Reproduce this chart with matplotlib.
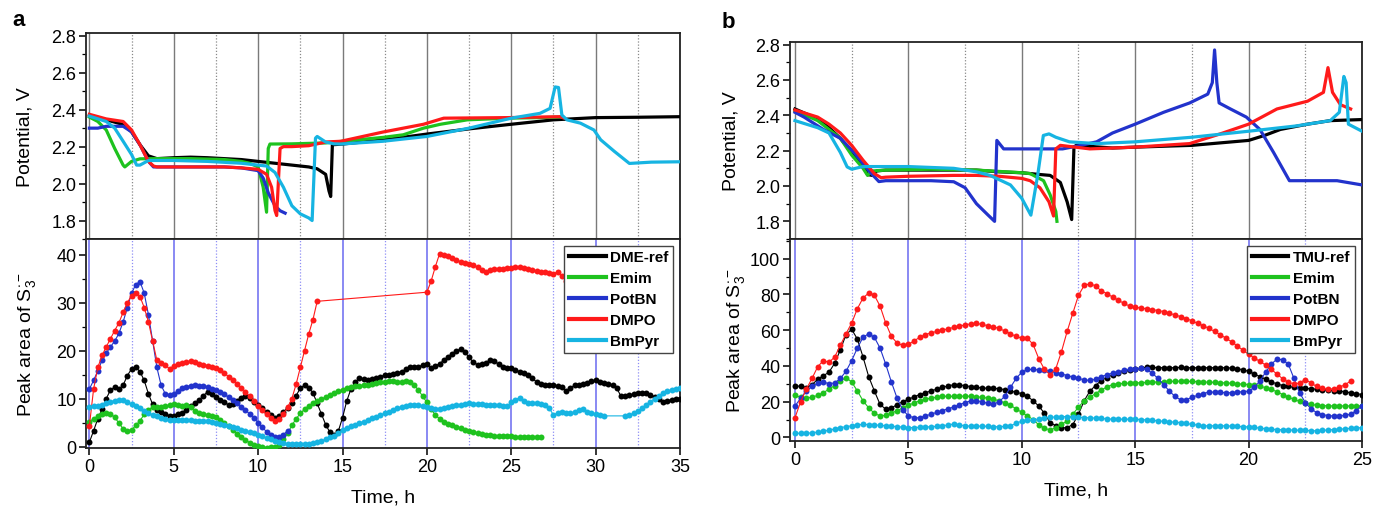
import numpy as np
import matplotlib
matplotlib.use("Agg")
import matplotlib.pyplot as plt
from matplotlib.lines import Line2D
from matplotlib.ticker import MultipleLocator

plt.rcParams['font.family'] = ['Liberation Sans', 'DejaVu Sans']
plt.rcParams['mathtext.fontset'] = 'custom'
plt.rcParams['mathtext.rm'] = 'Liberation Sans'
plt.rcParams['mathtext.it'] = 'Liberation Sans:italic'
plt.rcParams['mathtext.bf'] = 'Liberation Sans:bold'

# ---------------- colours / labels ----------------
colors = ['#000000', '#1ec21e', '#2233cc', '#ff1a1a', '#16b4e2']
labels_a = ['DME-ref', 'Emim', 'PotBN', 'DMPO', 'BmPyr']
labels_b = ['TMU-ref', 'Emim', 'PotBN', 'DMPO', 'BmPyr']
xticks_a = [0, 5, 10, 15, 20, 25, 30, 35]
xticks_b = [0, 5, 10, 15, 20, 25]
step = 0.25  # sampling interval of the Raman peak-area series, h

# ---------------- panel a : potential ----------------
pa_black_t = [0, 1, 2, 2.5, 3, 3.5, 4, 5, 6, 7, 8, 9, 10, 11, 12, 13, 13.5, 14, 14.2, 14.3, 14.4, 15, 17.5, 20, 22.5, 25, 27.5, 30, 32.5, 35]
pa_black_v = [2.37, 2.345, 2.32, 2.28, 2.21, 2.15, 2.135, 2.14, 2.143, 2.14, 2.135, 2.13, 2.12, 2.11, 2.10, 2.09, 2.08, 2.05, 1.96, 1.93, 2.21, 2.214, 2.237, 2.268, 2.296, 2.321, 2.345, 2.357, 2.359, 2.362]
pa_green_t = [0, 0.5, 1, 1.5, 2, 2.1, 2.5, 3, 4, 6, 8, 9, 9.5, 10, 10.3, 10.5, 10.6, 10.7, 12, 14, 15, 17.4, 18.6, 19.8, 20.8, 22.4, 24.8, 26.7, 28]
pa_green_v = [2.36, 2.336, 2.29, 2.19, 2.10, 2.09, 2.12, 2.134, 2.135, 2.135, 2.13, 2.12, 2.11, 2.09, 1.98, 1.845, 2.19, 2.214, 2.215, 2.22, 2.229, 2.25, 2.264, 2.30, 2.321, 2.345, 2.354, 2.357, 2.36]
pa_blue_t = [0, 0.5, 1, 2, 2.5, 3, 3.5, 3.8, 4, 6, 8, 9, 10, 10.3, 10.6, 11, 11.3, 11.6]
pa_blue_v = [2.30, 2.30, 2.31, 2.31, 2.28, 2.21, 2.12, 2.09, 2.09, 2.09, 2.09, 2.085, 2.07, 2.03, 1.95, 1.88, 1.853, 1.84]
pa_red_t = [0, 1, 2, 2.5, 3, 3.5, 3.8, 4, 6, 8, 9, 10, 10.5, 10.8, 11.0, 11.1, 11.3, 11.5, 12, 13, 14, 14.9, 17.4, 19.8, 21, 24.75, 27.9, 28.1]
pa_red_v = [2.375, 2.35, 2.336, 2.29, 2.21, 2.12, 2.095, 2.09, 2.09, 2.09, 2.085, 2.077, 2.05, 1.98, 1.854, 1.827, 2.19, 2.20, 2.20, 2.205, 2.225, 2.229, 2.279, 2.321, 2.354, 2.357, 2.362, 2.355]
pa_cyan_t = [0, 1, 1.5, 2, 2.5, 2.8, 3.0, 3.2, 3.5, 5, 7, 8, 9, 10, 10.5, 11, 11.5, 12, 12.5, 13, 13.2, 13.4, 13.5, 14, 14.5, 14.9, 17.4, 20, 22.5, 25, 26.7, 27.3, 27.6, 27.8, 28, 28.3, 29.1, 29.9, 30.3, 31.1, 32, 33.3, 35]
pa_cyan_v = [2.365, 2.336, 2.30, 2.229, 2.157, 2.10, 2.10, 2.11, 2.125, 2.125, 2.12, 2.115, 2.11, 2.10, 2.095, 2.06, 1.98, 1.88, 1.836, 1.814, 1.80, 2.246, 2.255, 2.225, 2.215, 2.214, 2.229, 2.255, 2.30, 2.354, 2.38, 2.407, 2.523, 2.52, 2.371, 2.345, 2.327, 2.29, 2.237, 2.175, 2.109, 2.116, 2.118]

# ---------------- panel a : peak area (start time, values every 0.25 h) ----------------
sa_black = [0.9, 3.3, 5.8, 7.8, 10.0, 11.8, 12.4, 12.0, 12.8, 14.8, 16.2, 16.6, 15.6, 13.8, 11.0, 8.8,
            7.6, 7.2, 6.8, 6.4, 6.3, 6.7, 7.1, 7.6, 8.4, 9.1, 9.7, 10.6, 11.4, 11.0, 10.3, 9.8,
            9.4, 8.6, 8.8, 9.6, 10.2, 10.5, 10.1, 9.3, 8.6, 8.0, 7.3, 6.6, 6.0, 6.4, 7.2, 8.1,
            9.0, 10.6, 12.2, 12.8, 12.3, 11.2, 9.0, 6.8, 4.6, 3.0, 2.4, 3.2, 6.0, 9.5, 12.0, 13.5,
            14.2, 14.0, 13.9, 14.1, 14.3, 14.6, 14.9, 15.0, 15.2, 15.4, 15.6, 16.1, 16.6, 16.5, 16.6, 17.0,
            17.3, 16.3, 16.8, 17.3, 18.0, 18.7, 19.4, 20.0, 20.3, 19.7, 18.6, 17.6, 17.1, 17.2, 17.4, 18.1,
            17.8, 17.2, 16.6, 16.3, 16.3, 16.0, 15.6, 15.3, 14.9, 14.2, 13.5, 13.1, 12.8, 12.8, 12.8, 12.6,
            12.5, 11.6, 12.2, 12.8, 12.8, 13.0, 13.2, 13.6, 13.9, 13.5, 13.2, 13.0, 12.8, 12.2, 10.5, 10.6,
            10.7, 10.9, 11.1, 11.1, 11.1, 10.8, 10.4, 9.9, 9.4, 9.6, 9.7, 9.9, 10.0]
sa_green = [5.2, 5.8, 6.3, 6.8, 7.0, 6.8, 6.1, 4.9, 3.7, 3.3, 3.5, 4.4, 5.4, 6.7, 7.7, 8.2,
            8.3, 8.3, 8.4, 8.6, 8.8, 8.7, 8.5, 8.6, 8.3, 7.5, 7.0, 6.7, 6.5, 6.4, 6.2, 5.6,
            5.0, 4.3, 3.4, 2.6, 2.0, 1.4, 0.8, 0.4, 0.1, -0.1, -0.2, -0.1, 0.0, 0.4, 1.5, 2.8,
            4.4, 5.8, 6.9, 7.8, 8.5, 9.0, 9.5, 9.9, 10.3, 10.7, 11.1, 11.5, 11.9, 12.2, 12.4, 12.6,
            12.7, 12.8, 12.9, 13.1, 13.2, 13.4, 13.5, 13.6, 13.6, 13.5, 13.5, 13.6, 13.5, 12.8, 11.8, 10.5,
            9.2, 7.8, 6.6, 5.8, 5.2, 4.8, 4.4, 4.1, 3.8, 3.5, 3.2, 3.0, 2.8, 2.6, 2.5, 2.4,
            2.3, 2.2, 2.2, 2.1, 2.1, 2.0, 2.0, 2.0, 1.9, 1.9, 1.9, 1.9]
sa_blue = [12.0, 13.8, 15.8, 18.0, 19.5, 20.8, 22.0, 23.6, 26.0, 29.0, 32.0, 33.8, 34.4, 32.0, 27.5, 22.0,
           16.5, 12.8, 11.0, 10.7, 11.0, 11.6, 12.2, 12.5, 12.7, 12.8, 12.7, 12.6, 12.4, 12.1, 11.8, 11.4,
           10.9, 10.3, 9.7, 9.0, 8.3, 7.6, 6.8, 5.9, 5.0, 4.0, 3.1, 2.4, 2.0, 2.0, 2.5, 3.3]
sa_red_1 = [4.3, 12.0, 16.5, 19.0, 20.8, 22.5, 24.2, 25.8, 28.0, 30.0, 31.5, 32.0, 31.3, 29.0, 26.0, 22.0,
            18.0, 17.5, 17.0, 16.2, 16.8, 17.3, 17.5, 17.6, 17.9, 17.6, 17.3, 17.1, 16.9, 16.7, 16.4, 15.9,
            15.3, 14.6, 13.9, 13.1, 12.3, 11.4, 10.5, 9.5, 8.5, 7.6, 6.7, 5.9, 5.3, 5.8, 6.8, 8.2,
            10.0, 13.0, 16.5, 20.0, 23.5, 26.5, 30.3]
sa_red_2 = [32.2, 34.5, 37.5, 40.2, 40.0, 39.7, 39.4, 38.9, 38.5, 38.2, 38.0, 37.8, 37.4, 36.9, 36.5, 36.8,
            37.0, 37.1, 37.0, 37.2, 37.3, 37.5, 37.4, 37.2, 37.0, 36.8, 36.6, 36.5, 36.5, 36.2, 36.0, 36.5,
            35.5, 34.6]
sa_cyan_1 = [8.3, 8.4, 8.5, 8.7, 9.0, 9.3, 9.6, 9.8, 9.7, 9.3, 8.8, 8.4, 8.0, 7.5, 7.0, 6.6,
             6.3, 6.0, 5.8, 5.6, 5.5, 5.5, 5.5, 5.5, 5.5, 5.4, 5.4, 5.3, 5.3, 5.1, 5.0, 4.8,
             4.5, 4.3, 4.0, 3.8, 3.5, 3.3, 3.0, 2.8, 2.5, 2.1, 1.8, 1.5, 1.2, 0.9, 0.7, 0.6,
             0.5, 0.5, 0.5, 0.5, 0.6, 0.7, 0.9, 1.2, 1.5, 1.9, 2.3, 2.9, 3.5, 3.9, 4.3, 4.6,
             4.9, 5.2, 5.6, 5.9, 6.2, 6.6, 6.9, 7.3, 7.6, 8.0, 8.3, 8.5, 8.7, 8.7, 8.7, 8.5,
             8.3, 8.0, 7.8, 7.9, 8.0, 8.2, 8.4, 8.6, 8.7, 8.9, 9.0, 8.9, 8.8, 8.8, 8.7, 8.7,
             8.7, 8.6, 8.4, 8.4, 9.2, 9.8, 10.2, 9.6, 9.0, 9.0, 9.0, 8.8, 8.7, 8.0, 6.6, 7.0,
             7.3, 7.1, 6.9, 7.2, 7.6, 7.8, 7.3, 6.9, 6.7, 6.5, 6.4]
sa_cyan_2 = [6.4, 6.6, 6.9, 7.4, 8.0, 8.7, 9.4, 10.0, 10.6, 11.1, 11.5, 11.8, 12.1, 12.3]
sa_segments = {  # series index -> list of (start time, values)
    0: [(0.0, sa_black)],
    1: [(0.0, sa_green)],
    2: [(0.0, sa_blue)],
    3: [(0.0, sa_red_1), (20.0, sa_red_2)],
    4: [(0.0, sa_cyan_1), (31.75, sa_cyan_2)],
}

# ---------------- panel b : potential ----------------
pb_black_t = [0, 1, 1.5, 2, 2.5, 3, 3.2, 3.4, 3.6, 4, 5, 7, 8, 9, 10, 10.8, 11.25, 11.7, 12, 12.2, 12.3, 12.4, 14, 15, 17.5, 20, 20.7, 21.4, 22.6, 23.6, 25]
pb_black_v = [2.436, 2.38, 2.33, 2.27, 2.19, 2.12, 2.065, 2.06, 2.085, 2.09, 2.09, 2.09, 2.09, 2.08, 2.075, 2.065, 2.06, 2.02, 1.91, 1.81, 2.22, 2.23, 2.215, 2.22, 2.23, 2.258, 2.286, 2.32, 2.35, 2.37, 2.376]
pb_green_t = [0, 1, 2, 2.5, 3, 3.2, 3.4, 4, 6, 8, 10, 10.37, 10.96, 11.25, 11.5, 11.55]
pb_green_v = [2.426, 2.37, 2.27, 2.175, 2.10, 2.06, 2.085, 2.09, 2.095, 2.09, 2.075, 2.07, 2.03, 1.95, 1.856, 1.80]
pb_blue_t = [0, 0.4, 1.25, 2, 2.6, 3.3, 3.7, 4, 6, 7, 7.5, 8, 8.5, 8.8, 8.9, 9.2, 10, 11.8, 12.6, 13.3, 14, 15, 16.25, 17.4, 18.2, 18.4, 18.5, 18.6, 18.7, 19.2, 19.9, 20.5, 21.1, 21.8, 22.6, 23.9, 25]
pb_blue_v = [2.417, 2.39, 2.32, 2.27, 2.19, 2.08, 2.025, 2.03, 2.03, 2.024, 1.99, 1.90, 1.837, 1.80, 2.258, 2.21, 2.21, 2.21, 2.23, 2.25, 2.30, 2.35, 2.417, 2.47, 2.52, 2.585, 2.77, 2.585, 2.47, 2.436, 2.39, 2.32, 2.19, 2.03, 2.03, 2.03, 2.006]
pb_red_t = [0, 1, 1.5, 2, 2.5, 3, 3.5, 3.8, 4, 5, 7, 8, 9, 10, 10.37, 10.8, 11.2, 11.4, 11.5, 11.7, 13, 15, 17.4, 18.75, 20, 21.25, 22.6, 23.3, 23.5, 23.7, 24.05, 24.5]
pb_red_v = [2.43, 2.39, 2.35, 2.30, 2.23, 2.146, 2.07, 2.047, 2.05, 2.055, 2.06, 2.06, 2.055, 2.043, 2.03, 1.99, 1.91, 1.83, 2.21, 2.23, 2.21, 2.22, 2.24, 2.295, 2.35, 2.436, 2.48, 2.53, 2.67, 2.53, 2.46, 2.436]
pb_cyan_t = [0, 1, 1.5, 2, 2.3, 2.5, 3, 5, 7, 8, 8.6, 9.5, 10, 10.4, 10.7, 10.95, 11.2, 11.5, 12.1, 13.3, 15, 17.5, 20, 22.1, 23.6, 24, 24.2, 24.3, 24.4, 25]
pb_cyan_v = [2.37, 2.33, 2.30, 2.19, 2.108, 2.095, 2.11, 2.11, 2.10, 2.08, 2.06, 2.006, 1.93, 1.835, 2.06, 2.286, 2.295, 2.276, 2.25, 2.24, 2.25, 2.276, 2.31, 2.34, 2.37, 2.417, 2.62, 2.585, 2.35, 2.31]

# ---------------- panel b : peak area (values every 0.25 h from 0) ----------------
sb_black = [29.0, 28.5, 27.8, 29.5, 32.5, 34.5, 36.5, 41.5, 49.0, 57.5, 60.5, 55.0, 45.0, 34.0, 26.0, 18.5,
            15.8, 16.5, 18.3, 20.0, 21.3, 22.7, 24.0, 25.0, 26.0, 27.0, 28.0, 28.8, 29.5, 29.3, 29.0, 28.4,
            28.0, 27.7, 27.5, 27.4, 27.3, 26.7, 26.0, 25.2, 24.5, 23.0, 20.5, 17.5, 13.5, 8.3, 6.5, 5.3,
            5.5, 7.2, 13.0, 20.5, 25.9, 29.0, 31.8, 33.5, 35.0, 36.2, 37.0, 37.5, 38.0, 38.8, 39.3, 39.2,
            39.0, 39.0, 39.0, 39.0, 39.2, 39.0, 39.0, 39.0, 39.0, 39.0, 39.0, 39.0, 39.0, 38.8, 38.5, 37.8,
            37.0, 35.5, 34.0, 32.5, 31.0, 30.0, 29.0, 28.5, 28.0, 27.7, 27.5, 27.2, 27.0, 26.7, 26.5, 26.2,
            26.0, 25.5, 25.0, 24.5, 24.0]
sb_green = [23.5, 22.5, 22.0, 22.5, 23.5, 25.0, 27.0, 29.0, 31.5, 33.5, 31.0, 26.0, 20.5, 16.5, 13.5, 12.0,
            12.3, 13.5, 15.0, 16.5, 18.0, 19.3, 20.5, 21.3, 22.0, 22.5, 23.0, 23.0, 23.0, 23.0, 23.1, 23.0,
            22.8, 22.4, 22.0, 21.3, 20.5, 19.3, 18.0, 16.0, 14.0, 12.0, 10.0, 7.0, 5.2, 4.1, 5.5, 7.3,
            9.2, 13.0, 17.0, 20.5, 22.5, 24.5, 26.5, 28.2, 29.6, 30.0, 30.2, 30.4, 30.5, 30.6, 30.8, 30.9,
            31.0, 31.1, 31.3, 31.4, 31.5, 31.4, 31.3, 31.2, 31.0, 30.9, 30.8, 30.6, 30.5, 30.3, 30.0, 29.8,
            29.6, 29.2, 28.7, 27.8, 26.9, 25.5, 24.0, 22.6, 21.3, 20.1, 19.0, 18.5, 18.0, 17.8, 17.7, 17.6,
            17.6, 17.6, 17.6, 17.6, 17.6]
sb_blue = [17.5, 22.0, 26.0, 28.5, 30.5, 31.0, 30.0, 30.5, 33.0, 37.0, 43.0, 50.0, 56.0, 58.0, 56.0, 50.0,
           41.0, 31.0, 22.0, 15.5, 12.0, 11.0, 11.0, 12.0, 13.0, 14.0, 15.0, 16.0, 17.0, 18.3, 19.5, 20.4,
           20.5, 20.0, 19.0, 18.5, 20.0, 23.0, 28.0, 33.0, 36.5, 38.0, 38.0, 37.8, 37.5, 37.0, 36.2, 35.5,
           34.6, 33.8, 33.0, 32.2, 31.9, 32.5, 34.0, 35.0, 36.0, 36.8, 37.5, 38.0, 38.5, 38.6, 38.0, 36.0,
           33.0, 29.6, 26.0, 23.0, 21.0, 21.0, 22.5, 23.5, 24.5, 25.4, 25.3, 25.2, 25.0, 25.0, 25.3, 25.6,
           25.9, 28.0, 31.5, 36.5, 41.0, 43.8, 43.5, 41.0, 33.0, 25.0, 19.5, 16.0, 13.9, 12.8, 12.2, 12.0,
           12.0, 12.3, 13.0, 15.0, 17.6]
sb_red = [11.0, 20.0, 27.0, 33.0, 39.5, 43.0, 42.0, 45.0, 51.5, 58.0, 64.0, 72.0, 78.0, 80.8, 79.5, 73.5,
          64.0, 56.5, 52.8, 51.5, 52.0, 54.0, 56.0, 57.5, 58.5, 59.3, 60.0, 60.8, 61.5, 62.2, 63.0, 63.5,
          63.8, 63.2, 62.5, 61.8, 61.0, 59.5, 58.0, 56.5, 55.5, 55.5, 52.0, 44.0, 38.0, 35.0, 38.5, 48.0,
          59.3, 69.5, 79.5, 85.0, 86.0, 84.8, 82.0, 80.5, 78.5, 76.8, 75.0, 73.5, 72.8, 72.4, 72.0, 71.5,
          71.0, 70.4, 69.5, 68.5, 67.6, 66.5, 65.2, 63.8, 62.5, 61.0, 59.3, 57.5, 55.5, 53.5, 51.2, 48.8,
          46.5, 44.5, 42.5, 40.5, 38.0, 35.5, 32.8, 31.0, 29.8, 30.5, 32.4, 30.5, 28.5, 27.5, 27.0, 27.2,
          28.0, 29.5, 31.5]
sb_cyan = [2.5, 2.2, 2.3, 2.6, 3.0, 3.5, 4.0, 4.8, 5.5, 6.0, 6.5, 7.0, 7.3, 7.2, 7.0, 6.8,
           6.5, 6.3, 6.0, 5.8, 5.5, 5.5, 5.7, 5.8, 6.0, 6.2, 6.5, 7.0, 7.5, 7.0, 6.5, 6.3,
           6.3, 6.3, 6.2, 6.0, 6.0, 6.2, 6.5, 7.8, 9.2, 9.5, 9.8, 10.4, 11.0, 11.2, 11.5, 11.6,
           11.7, 11.5, 11.3, 11.1, 11.0, 10.8, 10.6, 10.4, 10.2, 10.2, 10.2, 10.2, 10.2, 10.0, 9.8, 9.5,
           9.3, 9.0, 8.8, 8.5, 8.3, 7.8, 7.3, 6.9, 6.5, 6.5, 6.5, 6.5, 6.5, 6.3, 6.2, 6.0,
           5.9, 5.6, 5.2, 4.9, 4.6, 4.4, 4.3, 4.2, 4.1, 4.0, 3.9, 3.8, 3.7, 3.9, 4.2, 4.4,
           4.6, 4.8, 5.1, 5.3, 5.5]
sb_segments = {
    0: [(0.0, sb_black)],
    1: [(0.0, sb_green)],
    2: [(0.0, sb_blue)],
    3: [(0.0, sb_red)],
    4: [(0.0, sb_cyan)],
}

pot_a = [(pa_black_t, pa_black_v), (pa_green_t, pa_green_v), (pa_blue_t, pa_blue_v),
         (pa_red_t, pa_red_v), (pa_cyan_t, pa_cyan_v)]
pot_b = [(pb_black_t, pb_black_v), (pb_green_t, pb_green_v), (pb_blue_t, pb_blue_v),
         (pb_red_t, pb_red_v), (pb_cyan_t, pb_cyan_v)]

W, H = 1375, 510
fig = plt.figure(figsize=(W / 100, H / 100), dpi=100)


def box(l, r, t, b):
    return [l / W, 1 - b / H, (r - l) / W, (b - t) / H]


TICK_FS = 13
LAB_FS = 14


def style(ax):
    for s in ax.spines.values():
        s.set_linewidth(1.3)
        s.set_color('#222222')
    ax.tick_params(direction='out', length=5, width=1.1, labelsize=TICK_FS, pad=2)
    ax.tick_params(which='minor', direction='out', length=3, width=0.9)


def make_panel(lrtb_top, lrtb_bot, xmax, xticks, pots, segs, labels, ylim_b, ymaj_b, ymin_b,
               letter, letter_xy, ylab_x):
    axt = fig.add_axes(box(*lrtb_top))
    axb = fig.add_axes(box(*lrtb_bot))
    x0 = -0.2 if xmax == 35 else -0.22
    for ax in (axt, axb):
        ax.set_xlim(x0, xmax)
        style(ax)
    half = np.arange(0, xmax + 0.01, 2.5)
    for xv in half:
        major = abs(xv / 5 - round(xv / 5)) < 1e-6
        if major:
            axt.axvline(xv, color='#7a7a7a', lw=1.0, zorder=1)
            axb.axvline(xv, color='#6a6af0', lw=1.1, zorder=1)
        else:
            axt.axvline(xv, color='#8a8a8a', lw=0.9, ls=(0, (1, 1.5)), zorder=1)
            axb.axvline(xv, color='#8f8ff5', lw=0.9, ls=(0, (1, 1.5)), zorder=1)
    # potential
    for (t, v), c in zip(pots, colors):
        axt.plot(t, v, color=c, lw=2.3, zorder=3, solid_joinstyle='round')
    axt.set_ylim(1.70, 2.815)
    axt.yaxis.set_major_locator(MultipleLocator(0.2))
    axt.yaxis.set_minor_locator(MultipleLocator(0.1))
    axt.yaxis.set_major_formatter(matplotlib.ticker.FormatStrFormatter('%.1f'))
    axt.tick_params(axis='x', which='both', bottom=False, labelbottom=False)
    axt.set_ylabel('Potential, V', fontsize=LAB_FS)
    # peak area
    for i, c in enumerate(colors):
        ts, vs = [], []
        for start, vals in segs[i]:
            ts.extend(start + step * np.arange(len(vals)))
            vs.extend(vals)
        axb.plot(ts, vs, color=c, lw=0.8, marker='o', ms=4.3, mew=0, zorder=3)
    axb.set_ylim(*ylim_b)
    axb.yaxis.set_major_locator(MultipleLocator(ymaj_b))
    axb.yaxis.set_minor_locator(MultipleLocator(ymin_b))
    axb.set_xticks(xticks)
    axb.set_xlabel('Time, h', fontsize=LAB_FS, labelpad=10)
    axb.set_ylabel(r'Peak area of S$_3^{\bullet-}$', fontsize=LAB_FS)
    handles = [Line2D([], [], color=c, lw=3) for c in colors]
    leg = axb.legend(handles, labels, loc='upper right', frameon=True, fancybox=False,
                     prop={'weight': 'bold', 'size': 11}, handlelength=2.4, handletextpad=0.3,
                     labelspacing=0.45, borderpad=0.3, borderaxespad=0.45, framealpha=1)
    leg.get_frame().set_edgecolor('#444444')
    leg.get_frame().set_linewidth(1.0)
    leg.set_zorder(10)
    l, r = lrtb_top[0], lrtb_top[1]
    axt.yaxis.set_label_coords((ylab_x[0] - l) / (r - l), 0.5)
    axb.yaxis.set_label_coords((ylab_x[1] - l) / (r - l), 0.5)
    fig.text(letter_xy[0] / W, 1 - letter_xy[1] / H, letter, fontsize=16, fontweight='bold',
             ha='left', va='center')
    return axt, axb


make_panel((86, 680, 34, 240), (86, 680, 240, 449), 35, xticks_a, pot_a, sa_segments, labels_a,
           (-0.3, 43.3), 10, 5, 'a', (12, 20), (34, 38))
make_panel((790, 1362, 43, 240), (790, 1362, 240, 442), 25, xticks_b, pot_b, sb_segments, labels_b,
           (-2, 111), 20, 10, 'b', (722, 22), (739, 747))

fig.savefig('out.png', dpi=100)
